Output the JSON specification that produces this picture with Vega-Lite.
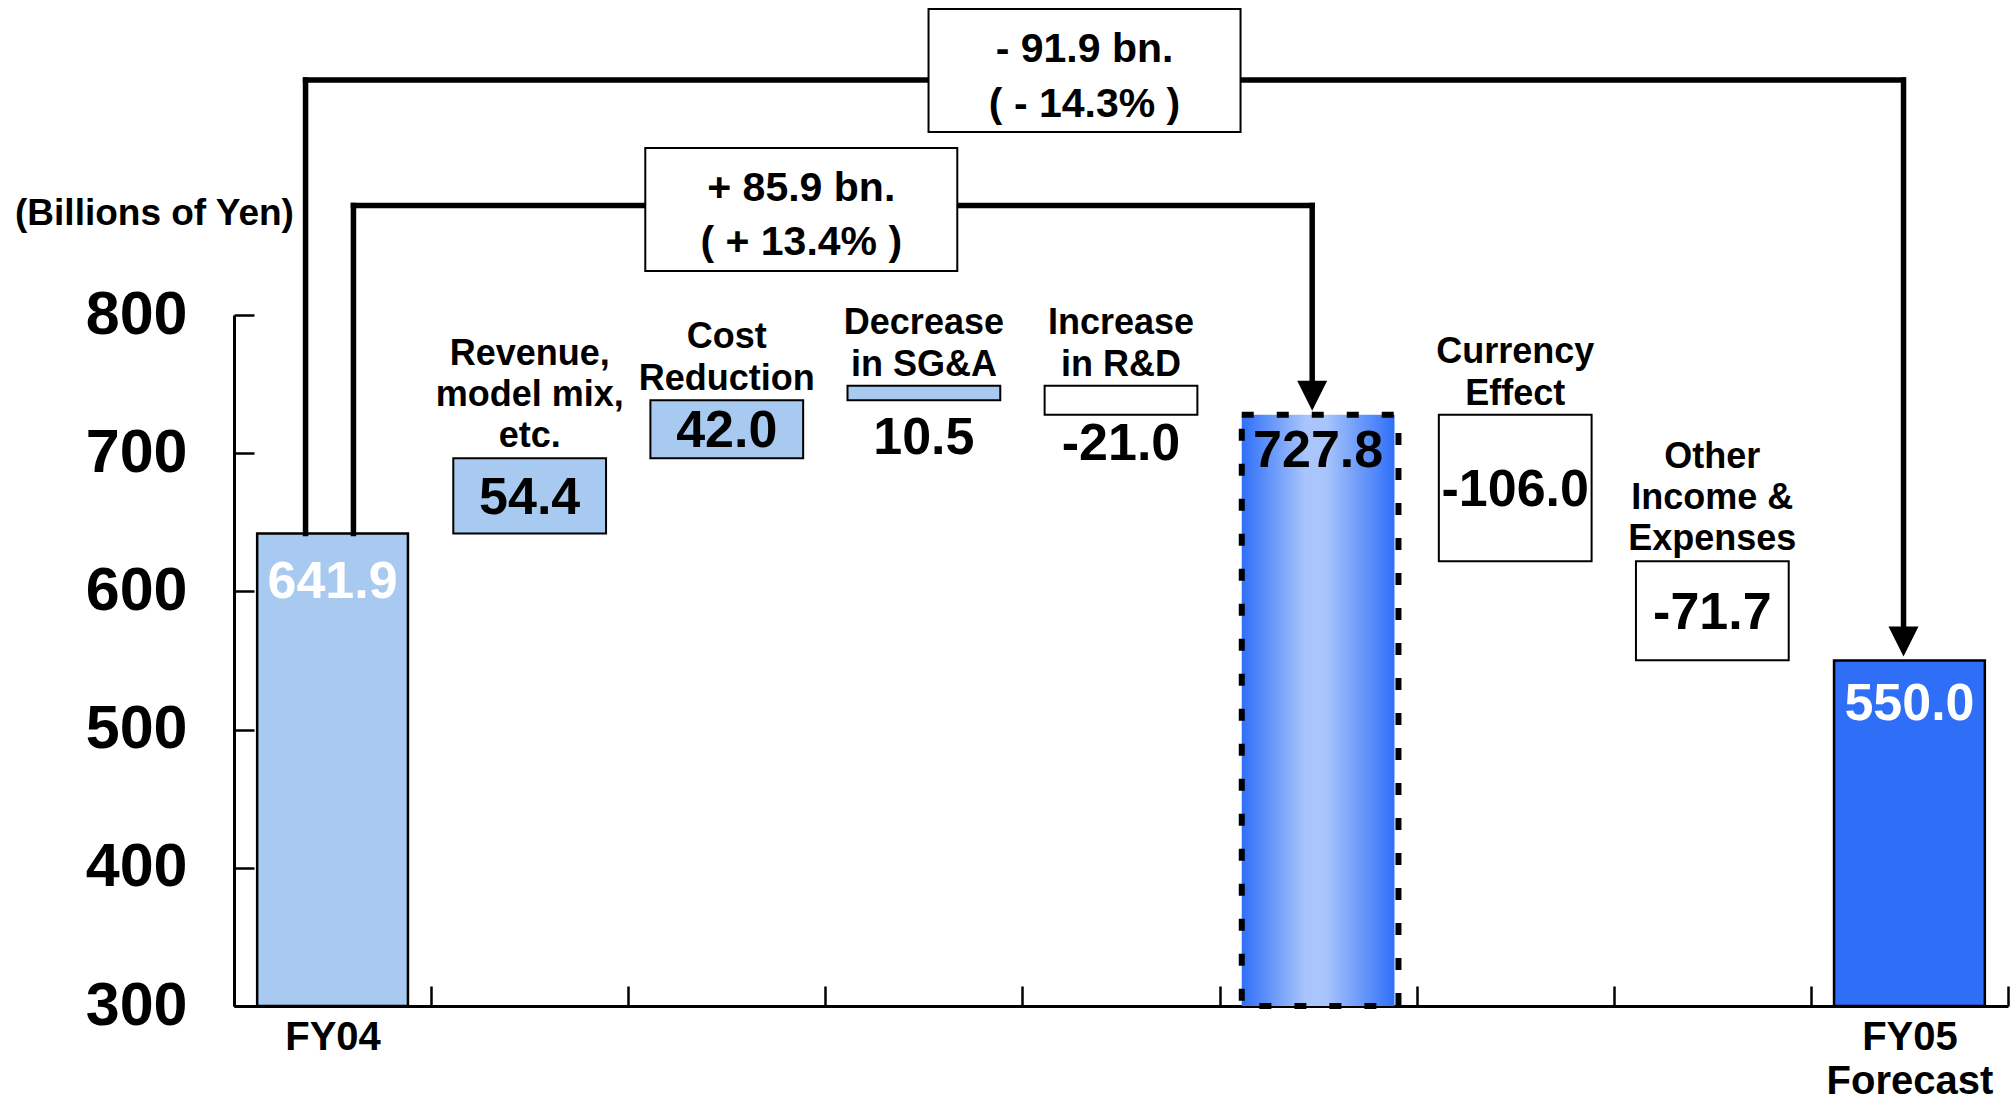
{
  "$schema": "https://vega.github.io/schema/vega-lite/v6.json",
  "width": 1774,
  "height": 691,
  "autosize": {"type": "none"},
  "padding": {"left": 234, "top": 315, "right": 7, "bottom": 94},
  "background": "white",
  "config": {"view": {"stroke": null}, "font": "Liberation Sans", "axis": {"grid": false}},
  "datasets": {
    "bars": [
      {"cat": "FY04", "kind": "Start", "start": 0, "end": 641.9, "text": "641.9", "label": ""},
      {"cat": "Revenue", "kind": "Increase", "start": 641.9, "end": 696.3, "text": "54.4", "label": "Revenue,\nmodel mix,\netc."},
      {"cat": "Cost", "kind": "Increase", "start": 696.3, "end": 738.3, "text": "42.0", "label": "Cost\nReduction"},
      {"cat": "SGA", "kind": "Increase", "start": 738.3, "end": 748.8, "text": "10.5", "label": "Decrease\nin SG&A"},
      {"cat": "RD", "kind": "Decrease", "start": 748.8, "end": 727.8, "text": "-21.0", "label": "Increase\nin R&D"},
      {"cat": "Sub", "kind": "Subtotal", "start": 0, "end": 727.8, "text": "727.8", "label": ""},
      {"cat": "Currency", "kind": "Decrease", "start": 727.8, "end": 621.8, "text": "-106.0", "label": "Currency\nEffect"},
      {"cat": "Other", "kind": "Decrease", "start": 621.8, "end": 550.1, "text": "-71.7", "label": "Other\nIncome &\nExpenses"},
      {"cat": "FY05", "kind": "End", "start": 0, "end": 550.0, "text": "550.0", "label": ""}
    ],
    "notes": [
      {"id": "outer", "from": "FY04", "to": "FY05", "fromVal": 641.9, "toVal": 550.0, "level": 970.0, "boxCat": "RD", "boxLevel": 976.9, "text": "- 91.9 bn.\n( - 14.3% )"},
      {"id": "inner", "from": "FY04", "to": "Sub", "fromVal": 641.9, "toVal": 727.8, "level": 879.2, "boxCat": "Cost", "boxLevel": 876.3, "text": "+ 85.9 bn.\n( + 13.4% )"}
    ]
  },
  "layer": [
    {
      "data": {"name": "bars"},
      "transform": [{"filter": {"field": "kind", "oneOf": ["Start", "End"]}}],
      "mark": {"type": "bar", "width": {"band": 0.765}, "stroke": "black", "strokeWidth": 2.5},
      "encoding": {
        "x": {"field": "cat", "type": "nominal", "sort": null,
          "scale": {"type": "band", "domain": ["FY04", "Revenue", "Cost", "SGA", "RD", "Sub", "Currency", "Other", "FY05"], "paddingInner": 0, "paddingOuter": 0},
          "axis": {"title": null, "tickBand": "extent", "tickSize": -20, "tickWidth": 2.5, "tickColor": "black", "domainColor": "black", "domainWidth": 3,
            "labelExpr": "datum.value == 'FY05' ? ['FY05', 'Forecast'] : (datum.value == 'FY04' ? 'FY04' : '')",
            "labelFontSize": 40, "labelFontWeight": "bold", "labelColor": "black", "labelPadding": 31, "labelLineHeight": 44, "labelAngle": 0}},
        "y": {"field": "end", "type": "quantitative",
          "scale": {"domain": [300, 800], "zero": false, "nice": false},
          "axis": {"values": [300, 400, 500, 600, 700, 800], "format": "d", "tickSize": -20, "tickWidth": 2.5, "tickColor": "black", "domainColor": "black", "domainWidth": 3,
            "labelFontSize": 61, "labelFontWeight": "bold", "labelColor": "black", "labelPadding": 67,
            "title": "(Billions of Yen)", "titleAngle": 0, "titleX": -80, "titleY": -102, "titleAlign": "center", "titleBaseline": "middle",
            "titleFontSize": 37, "titleFontWeight": "bold", "titleColor": "black"}},
        "y2": {"datum": 300},
        "color": {"field": "kind", "type": "nominal", "scale": {"domain": ["Start", "Increase", "Decrease", "End"], "range": ["#A9CAF0", "#A9CAF0", "#FFFFFF", "#2F6FF8"]}, "legend": null}
      }
    },
    {
      "data": {"name": "bars"},
      "transform": [{"filter": {"field": "kind", "oneOf": ["Increase", "Decrease"]}}],
      "mark": {"type": "bar", "width": {"band": 0.775}, "stroke": "black", "strokeWidth": 2},
      "encoding": {
        "x": {"field": "cat", "type": "nominal"},
        "y": {"field": "end", "type": "quantitative"},
        "y2": {"field": "start"},
        "color": {"field": "kind", "type": "nominal", "legend": null}
      }
    },
    {
      "data": {"name": "bars"},
      "transform": [{"filter": {"field": "kind", "equal": "Subtotal"}}],
      "mark": {"type": "bar", "width": {"band": 0.775}, "strokeWidth": 0,
        "fill": {"gradient": "linear", "x1": 0, "y1": 0, "x2": 1, "y2": 0,
          "stops": [{"offset": 0, "color": "#2F6FF8"}, {"offset": 0.42, "color": "#A9C5FB"}, {"offset": 0.55, "color": "#A9C5FB"}, {"offset": 1, "color": "#2F6FF8"}]}},
      "encoding": {
        "x": {"field": "cat", "type": "nominal"},
        "y": {"field": "end", "type": "quantitative"},
        "y2": {"datum": 300}
      }
    },
    {
      "data": {"name": "bars"},
      "transform": [{"filter": {"field": "kind", "equal": "Subtotal"}}],
      "mark": {"type": "bar", "width": {"band": 0.795}, "xOffset": 2, "fill": "transparent", "stroke": "black", "strokeWidth": 6, "strokeDash": [12, 23]},
      "encoding": {
        "x": {"field": "cat", "type": "nominal"},
        "y": {"field": "end", "type": "quantitative"},
        "y2": {"datum": 300}
      }
    },
    {
      "data": {"name": "notes"},
      "mark": {"type": "rule", "color": "black", "strokeWidth": 5.5, "strokeCap": "square"},
      "transform": [{"filter": {"field": "id", "equal": "outer"}}],
      "encoding": {
        "x": {"field": "from", "type": "nominal", "bandPosition": 0.363},
        "y": {"field": "fromVal", "type": "quantitative"},
        "y2": {"field": "level"}
      }
    },
    {
      "data": {"name": "notes"},
      "mark": {"type": "rule", "color": "black", "strokeWidth": 5.5, "strokeCap": "square"},
      "transform": [{"filter": {"field": "id", "equal": "inner"}}],
      "encoding": {
        "x": {"field": "from", "type": "nominal", "bandPosition": 0.606},
        "y": {"field": "fromVal", "type": "quantitative"},
        "y2": {"field": "level"}
      }
    },
    {
      "data": {"name": "notes"},
      "mark": {"type": "rule", "color": "black", "strokeWidth": 5.5, "strokeCap": "square"},
      "transform": [{"filter": {"field": "id", "equal": "outer"}}],
      "encoding": {
        "x": {"field": "from", "type": "nominal", "bandPosition": 0.363},
        "x2": {"field": "to", "bandPosition": 0.467},
        "y": {"field": "level", "type": "quantitative"}
      }
    },
    {
      "data": {"name": "notes"},
      "mark": {"type": "rule", "color": "black", "strokeWidth": 5.5, "strokeCap": "square"},
      "transform": [{"filter": {"field": "id", "equal": "inner"}}],
      "encoding": {
        "x": {"field": "from", "type": "nominal", "bandPosition": 0.606},
        "x2": {"field": "to", "bandPosition": 0.47},
        "y": {"field": "level", "type": "quantitative"}
      }
    },
    {
      "data": {"name": "notes"},
      "mark": {"type": "rule", "color": "black", "strokeWidth": 5.5, "strokeCap": "square", "y2Offset": -16},
      "encoding": {
        "x": {"field": "to", "type": "nominal", "bandPosition": 0.47},
        "y": {"field": "level", "type": "quantitative"},
        "y2": {"field": "toVal"}
      }
    },
    {
      "data": {"name": "notes"},
      "mark": {"type": "point", "filled": true, "opacity": 1, "color": "black", "size": 900, "shape": "M-1,-2.27L1,-2.27L0,-0.27Z"},
      "encoding": {
        "x": {"field": "to", "type": "nominal", "bandPosition": 0.47},
        "y": {"field": "toVal", "type": "quantitative"}
      }
    },
    {
      "data": {"name": "notes"},
      "transform": [{"filter": {"field": "id", "equal": "outer"}}],
      "mark": {"type": "point", "filled": true, "opacity": 1, "fill": "white", "stroke": "black", "strokeWidth": 2, "size": 10000, "shape": "M-3.12,-1.23L3.12,-1.23L3.12,1.23L-3.12,1.23Z"},
      "encoding": {
        "x": {"field": "boxCat", "type": "nominal", "bandPosition": 0.315},
        "y": {"field": "boxLevel", "type": "quantitative"}
      }
    },
    {
      "data": {"name": "notes"},
      "transform": [{"filter": {"field": "id", "equal": "inner"}}],
      "mark": {"type": "point", "filled": true, "opacity": 1, "fill": "white", "stroke": "black", "strokeWidth": 2, "size": 10000, "shape": "M-3.12,-1.23L3.12,-1.23L3.12,1.23L-3.12,1.23Z"},
      "encoding": {
        "x": {"field": "boxCat", "type": "nominal", "bandPosition": 0.878},
        "y": {"field": "boxLevel", "type": "quantitative"}
      }
    },
    {
      "data": {"name": "notes"},
      "transform": [{"filter": {"field": "id", "equal": "outer"}}],
      "mark": {"type": "text", "fontSize": 41, "fontWeight": "bold", "color": "black", "lineBreak": "\n", "lineHeight": 55, "baseline": "middle", "align": "center", "dy": -21},
      "encoding": {
        "x": {"field": "boxCat", "type": "nominal", "bandPosition": 0.315},
        "y": {"field": "boxLevel", "type": "quantitative"},
        "text": {"field": "text"}
      }
    },
    {
      "data": {"name": "notes"},
      "transform": [{"filter": {"field": "id", "equal": "inner"}}],
      "mark": {"type": "text", "fontSize": 41, "fontWeight": "bold", "color": "black", "lineBreak": "\n", "lineHeight": 54, "baseline": "middle", "align": "center", "dy": -21},
      "encoding": {
        "x": {"field": "boxCat", "type": "nominal", "bandPosition": 0.878},
        "y": {"field": "boxLevel", "type": "quantitative"},
        "text": {"field": "text"}
      }
    },
    {
      "data": {"name": "bars"},
      "transform": [
        {"filter": {"field": "cat", "oneOf": ["Cost", "SGA", "RD", "Currency"]}},
        {"fold": ["start", "end"], "as": ["edge", "v"]},
        {"aggregate": [{"op": "max", "field": "v", "as": "top"}], "groupby": ["cat", "label"]}
      ],
      "mark": {"type": "text", "fontSize": 36, "fontWeight": "bold", "color": "black", "lineBreak": "\n", "lineHeight": 42, "baseline": "bottom", "align": "center", "dy": -44},
      "encoding": {
        "x": {"field": "cat", "type": "nominal"},
        "y": {"field": "top", "type": "quantitative"},
        "text": {"field": "label"}
      }
    },
    {
      "data": {"name": "bars"},
      "transform": [
        {"filter": {"field": "cat", "oneOf": ["Revenue", "Other"]}},
        {"fold": ["start", "end"], "as": ["edge", "v"]},
        {"aggregate": [{"op": "max", "field": "v", "as": "top"}], "groupby": ["cat", "label"]}
      ],
      "mark": {"type": "text", "fontSize": 36, "fontWeight": "bold", "color": "black", "lineBreak": "\n", "lineHeight": 41, "baseline": "bottom", "align": "center", "dy": -85},
      "encoding": {
        "x": {"field": "cat", "type": "nominal"},
        "y": {"field": "top", "type": "quantitative"},
        "text": {"field": "label"}
      }
    },
    {
      "data": {"name": "bars"},
      "transform": [
        {"filter": {"field": "cat", "oneOf": ["Revenue", "Cost", "Currency", "Other"]}},
        {"fold": ["start", "end"], "as": ["edge", "v"]},
        {"aggregate": [{"op": "mean", "field": "v", "as": "mid"}], "groupby": ["cat", "text"]}
      ],
      "mark": {"type": "text", "fontSize": 52, "fontWeight": "bold", "color": "black", "baseline": "middle", "align": "center", "dy": 2},
      "encoding": {
        "x": {"field": "cat", "type": "nominal"},
        "y": {"field": "mid", "type": "quantitative"},
        "text": {"field": "text"}
      }
    },
    {
      "data": {"name": "bars"},
      "transform": [{"filter": {"field": "cat", "equal": "SGA"}}],
      "mark": {"type": "text", "fontSize": 52, "fontWeight": "bold", "color": "black", "baseline": "middle", "align": "center", "dy": 38},
      "encoding": {
        "x": {"field": "cat", "type": "nominal"},
        "y": {"field": "start", "type": "quantitative"},
        "text": {"field": "text"}
      }
    },
    {
      "data": {"name": "bars"},
      "transform": [{"filter": {"field": "cat", "equal": "RD"}}],
      "mark": {"type": "text", "fontSize": 52, "fontWeight": "bold", "color": "black", "baseline": "middle", "align": "center", "dy": 29},
      "encoding": {
        "x": {"field": "cat", "type": "nominal"},
        "y": {"field": "end", "type": "quantitative"},
        "text": {"field": "text"}
      }
    },
    {
      "data": {"name": "bars"},
      "transform": [{"filter": {"field": "cat", "equal": "FY04"}}],
      "mark": {"type": "text", "fontSize": 52, "fontWeight": "bold", "color": "white", "baseline": "middle", "align": "center", "dy": 49},
      "encoding": {
        "x": {"field": "cat", "type": "nominal"},
        "y": {"field": "end", "type": "quantitative"},
        "text": {"field": "text"}
      }
    },
    {
      "data": {"name": "bars"},
      "transform": [{"filter": {"field": "cat", "equal": "FY05"}}],
      "mark": {"type": "text", "fontSize": 52, "fontWeight": "bold", "color": "white", "baseline": "middle", "align": "center", "dy": 43},
      "encoding": {
        "x": {"field": "cat", "type": "nominal"},
        "y": {"field": "end", "type": "quantitative"},
        "text": {"field": "text"}
      }
    },
    {
      "data": {"name": "bars"},
      "transform": [{"filter": {"field": "cat", "equal": "Sub"}}],
      "mark": {"type": "text", "fontSize": 52, "fontWeight": "bold", "color": "black", "baseline": "middle", "align": "center", "dy": 36},
      "encoding": {
        "x": {"field": "cat", "type": "nominal"},
        "y": {"field": "end", "type": "quantitative"},
        "text": {"field": "text"}
      }
    }
  ]
}
